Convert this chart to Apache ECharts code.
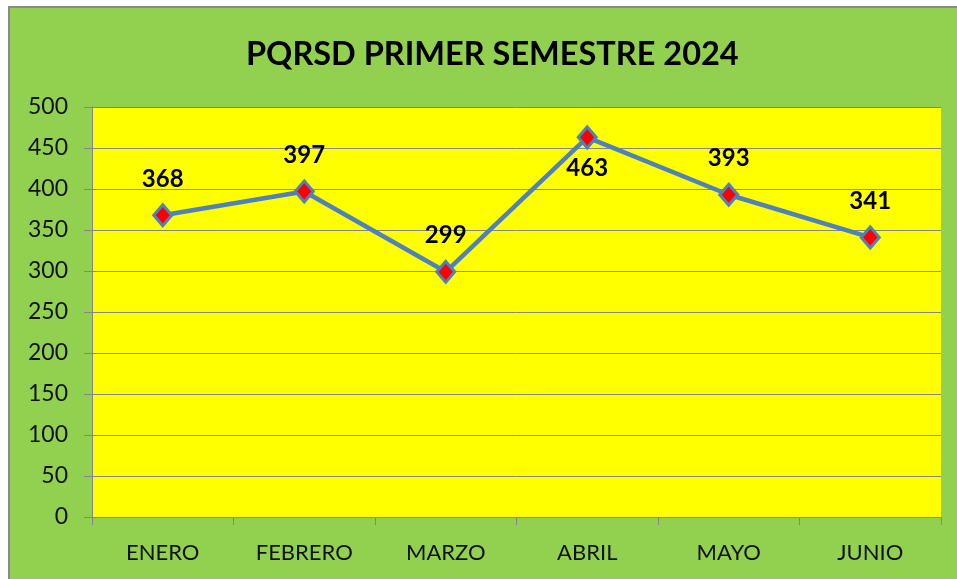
<!DOCTYPE html>
<html>
<head>
<meta charset="utf-8">
<script src="https://cdn.jsdelivr.net/npm/echarts@6/dist/echarts.min.js"></script>
<style>
  html, body { margin: 0; padding: 0; background: #fff; }
  #frame {
    position: absolute; left: 8px; top: 6px; width: 960px; height: 580px;
    background: #92D050; border-left: 2px solid #8a8a8a; border-top: 2px solid #8a8a8a;
  }
  #chart { position: absolute; left: 0; top: 0; width: 957px; height: 579px; }
</style>
</head>
<body>
<div id="frame"></div>
<div id="chart"></div>
<script>
// datos del semestre
var meses = ["ENERO", "FEBRERO", "MARZO", "ABRIL", "MAYO", "JUNIO"];
var pqrsd = [368, 397, 299, 463, 393, 341];
var etiquetaAbajo = ["ABRIL"];

var myChart = echarts.init(document.getElementById("chart"));
var fuente = "Lato";

var datos = pqrsd.map(function (v, i) {
  if (etiquetaAbajo.indexOf(meses[i]) >= 0) {
    return { value: v, label: { position: "bottom", distance: 7 } };
  }
  return v;
});

var option = {
  backgroundColor: "transparent",
  animation: false,
  title: {
    text: "PQRSD PRIMER SEMESTRE 2024",
    left: 241,
    top: 33,
    textStyle: { fontFamily: fuente, fontWeight: "bold", fontSize: 32.5, color: "#000" }
  },
  grid: {
    left: 92,
    top: 107,
    width: 849,
    height: 410,
    show: true,
    backgroundColor: "#FFFF00",
    borderWidth: 0
  },
  xAxis: {
    type: "category",
    data: meses,
    boundaryGap: true,
    axisLine: { lineStyle: { color: "#868686", width: 1 } },
    axisTick: { show: true, interval: 0, length: 8, lineStyle: { color: "#868686" } },
    axisLabel: { fontFamily: fuente, fontSize: 22, color: "#111", margin: 25 }
  },
  yAxis: {
    type: "value",
    min: 0,
    max: 500,
    interval: 50,
    axisLine: { show: true, lineStyle: { color: "#868686", width: 1 } },
    axisTick: { show: true, length: 8, lineStyle: { color: "#868686" } },
    splitLine: { show: true, lineStyle: { color: "#868686", width: 1 } },
    axisLabel: { fontFamily: fuente, fontSize: 23, color: "#111", margin: 24 }
  },
  series: [
    {
      name: "PQRSD",
      type: "line",
      data: datos,
      symbol: "diamond",
      symbolSize: [18, 21],
      lineStyle: { color: "#4F81BD", width: 4.5 },
      itemStyle: { color: "#FF0000", borderColor: "#4F81BD", borderWidth: 3 },
      label: {
        show: true,
        position: "top",
        distance: 12,
        fontFamily: fuente,
        fontWeight: "bold",
        fontSize: 24,
        color: "#000"
      }
    }
  ]
};

myChart.setOption(option);
window.addEventListener("resize", function () { myChart.resize(); });
</script>
</body>
</html>
